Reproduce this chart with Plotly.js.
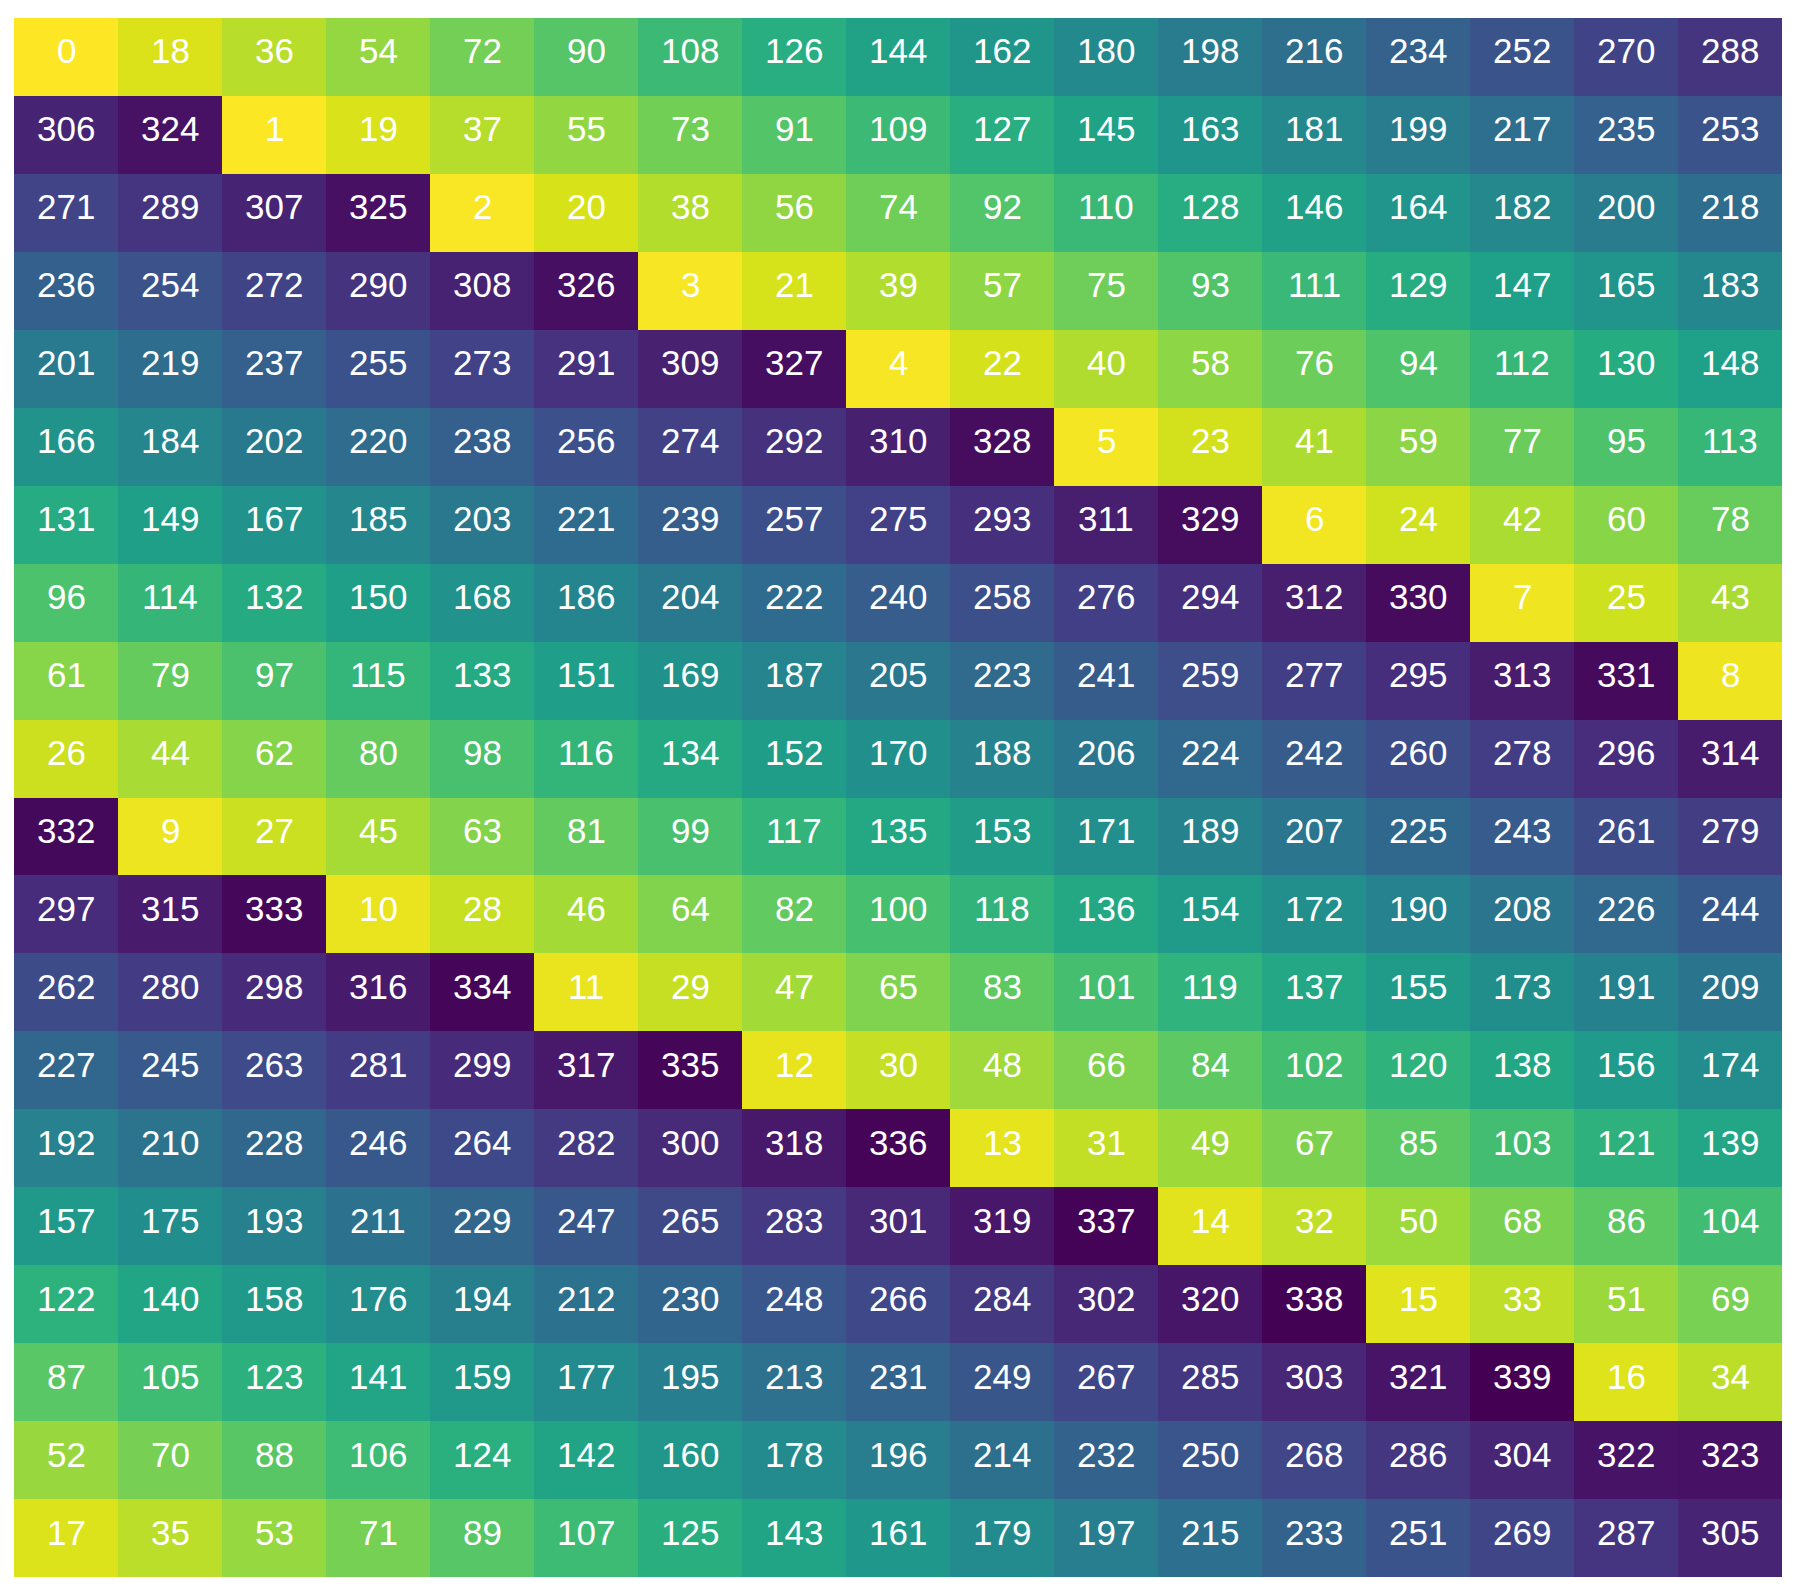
<!DOCTYPE html>
<html>
<head>
<meta charset="utf-8">
<script src="https://cdn.plot.ly/plotly-3.0.1.min.js"></script>
<style>html,body{margin:0;padding:0;background:#fff;}#chart{width:1796px;height:1592px;}</style>
</head>
<body>
<div id="chart"></div>
<script>
const rowLabels = ["r0","r1","r2","r3","r4","r5","r6","r7","r8","r9","r10","r11","r12","r13","r14","r15","r16","r17","r18","r19"];
const colLabels = ["c0","c1","c2","c3","c4","c5","c6","c7","c8","c9","c10","c11","c12","c13","c14","c15","c16"];
const row0  = [0, 18, 36, 54, 72, 90, 108, 126, 144, 162, 180, 198, 216, 234, 252, 270, 288];
const row1  = [306, 324, 1, 19, 37, 55, 73, 91, 109, 127, 145, 163, 181, 199, 217, 235, 253];
const row2  = [271, 289, 307, 325, 2, 20, 38, 56, 74, 92, 110, 128, 146, 164, 182, 200, 218];
const row3  = [236, 254, 272, 290, 308, 326, 3, 21, 39, 57, 75, 93, 111, 129, 147, 165, 183];
const row4  = [201, 219, 237, 255, 273, 291, 309, 327, 4, 22, 40, 58, 76, 94, 112, 130, 148];
const row5  = [166, 184, 202, 220, 238, 256, 274, 292, 310, 328, 5, 23, 41, 59, 77, 95, 113];
const row6  = [131, 149, 167, 185, 203, 221, 239, 257, 275, 293, 311, 329, 6, 24, 42, 60, 78];
const row7  = [96, 114, 132, 150, 168, 186, 204, 222, 240, 258, 276, 294, 312, 330, 7, 25, 43];
const row8  = [61, 79, 97, 115, 133, 151, 169, 187, 205, 223, 241, 259, 277, 295, 313, 331, 8];
const row9  = [26, 44, 62, 80, 98, 116, 134, 152, 170, 188, 206, 224, 242, 260, 278, 296, 314];
const row10 = [332, 9, 27, 45, 63, 81, 99, 117, 135, 153, 171, 189, 207, 225, 243, 261, 279];
const row11 = [297, 315, 333, 10, 28, 46, 64, 82, 100, 118, 136, 154, 172, 190, 208, 226, 244];
const row12 = [262, 280, 298, 316, 334, 11, 29, 47, 65, 83, 101, 119, 137, 155, 173, 191, 209];
const row13 = [227, 245, 263, 281, 299, 317, 335, 12, 30, 48, 66, 84, 102, 120, 138, 156, 174];
const row14 = [192, 210, 228, 246, 264, 282, 300, 318, 336, 13, 31, 49, 67, 85, 103, 121, 139];
const row15 = [157, 175, 193, 211, 229, 247, 265, 283, 301, 319, 337, 14, 32, 50, 68, 86, 104];
const row16 = [122, 140, 158, 176, 194, 212, 230, 248, 266, 284, 302, 320, 338, 15, 33, 51, 69];
const row17 = [87, 105, 123, 141, 159, 177, 195, 213, 231, 249, 267, 285, 303, 321, 339, 16, 34];
const row18 = [52, 70, 88, 106, 124, 142, 160, 178, 196, 214, 232, 250, 268, 286, 304, 322, 323];
const row19 = [17, 35, 53, 71, 89, 107, 125, 143, 161, 179, 197, 215, 233, 251, 269, 287, 305];

const zValues = [row0,row1,row2,row3,row4,row5,row6,row7,row8,row9,row10,row11,row12,row13,row14,row15,row16,row17,row18,row19];

const trace = {
  type: 'heatmap',
  x: colLabels,
  y: rowLabels,
  z: zValues,
  colorscale: 'Viridis',
  reversescale: true,
  zmin: 0,
  zmax: 339,
  showscale: false,
  hoverinfo: 'skip',
  xgap: 0,
  ygap: 0
};

const annotations = [];
zValues.forEach((row, i) => {
  row.forEach((v, j) => {
    annotations.push({
      x: colLabels[j], y: rowLabels[i], xref: 'x', yref: 'y',
      text: String(v), showarrow: false, yshift: 6,
      font: {family: 'Liberation Sans, Arial, sans-serif', size: 35, color: '#ffffff'}
    });
  });
});

const layout = {
  width: 1796,
  height: 1592,
  margin: {l: 14, r: 14, t: 18, b: 15, pad: 0},
  paper_bgcolor: '#ffffff',
  plot_bgcolor: '#ffffff',
  xaxis: {visible: false, showgrid: false, zeroline: false},
  yaxis: {visible: false, showgrid: false, zeroline: false, autorange: 'reversed'},
  showlegend: false,
  annotations: annotations
};

Plotly.newPlot('chart', [trace], layout, {displayModeBar: false, staticPlot: true});
</script>
</body>
</html>
